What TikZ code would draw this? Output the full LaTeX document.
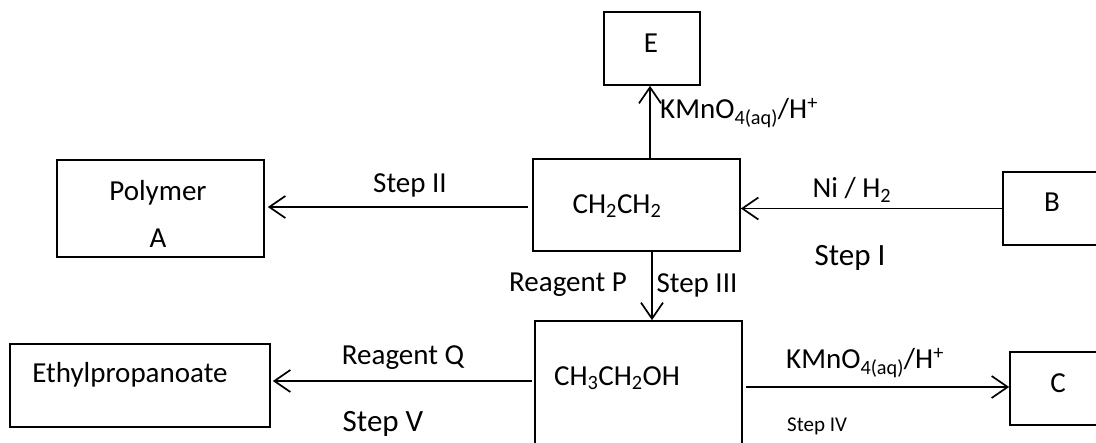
\documentclass[tikz,border=0pt]{standalone}
\usepackage{fontspec}
\setmainfont{Carlito}
\usetikzlibrary{arrows.meta}
\tikzset{
  box/.style={draw, line width=1.7pt, rectangle, inner sep=0pt},
  lbl/.style={inner sep=0pt, font=\fontsize{29}{34}\selectfont},
  biglbl/.style={inner sep=0pt, font=\fontsize{31}{36}\selectfont},
  smalllbl/.style={inner sep=0pt, font=\fontsize{21}{25}\selectfont},
  arr/.style={line width=1.7pt, -{Straight Barb[length=16pt,width=22pt,line width=1.7pt]}}
}
\begin{document}
\begin{tikzpicture}[x=1pt,y=-1pt]
\clip (0,0) rectangle (1096,443);
\useasboundingbox (0,0) rectangle (1096,443);
% boxes
\node[box, minimum width=96pt, minimum height=73pt] (e) at (652,48.5) {};
\node[box, minimum width=207pt, minimum height=97pt] (poly) at (160.5,208.5) {};
\node[box, minimum width=207pt, minimum height=92pt] (ch) at (636.5,205) {};
\node[box, minimum width=107pt, minimum height=73pt] (b) at (1056.5,208.5) {};
\node[box, minimum width=207pt, minimum height=149pt] (al) at (638.5,395.5) {};
\node[box, minimum width=260pt, minimum height=83pt] (eth) at (140,385.5) {};
\node[box, minimum width=100pt, minimum height=73pt] (c) at (1060,388.5) {};
% box texts
\node[lbl] (et) at (651,43) {E};
\node[lbl] (pt1) at (158,193) {Polymer};
\node[lbl] (pt2) at (158,238) {A};
\node[lbl] (cht) at (617,206) {CH\textsubscript{2}CH\textsubscript{2}};
\node[lbl] (bt) at (1052,202) {B};
\node[lbl] (alt) at (617,378) {CH\textsubscript{3}CH\textsubscript{2}OH};
\node[lbl] (etht) at (130,375) {Ethylpropanoate};
\node[lbl] (ct) at (1058,383) {C};
% arrows
\draw[arr] (ch.north -| e.south) ++(-2,0) coordinate (eu) -- (eu |- e.south);
\coordinate (s2) at ([yshift=-2pt]ch.west);
\draw[arr, shorten <=4pt, shorten >=3pt] (s2) -- (s2 -| poly.east);
\draw[arr] (b.west) -- (b.west -| ch.east);
\draw[arr] (ch.south -| e.south) -- (al.north -| e.south);
\coordinate (q) at ([yshift=4.5pt]eth.east);
\draw[arr, shorten <=2pt, shorten >=2pt] (al.west |- q) -- (q);
\coordinate (k) at ([yshift=1.5pt]c.west);
\draw[arr, shorten <=3pt] (al.east |- k) -- (k);
% labels
\node[lbl, anchor=west] (k1) at (660,113) {KMnO\textsubscript{4(aq)}/H\textsuperscript{+}};
\node[lbl] (st2) at (410,185) {Step II};
\node[lbl] (ni) at (852,190) {Ni / H\textsubscript{2}};
\node[biglbl] (st1) at (850,258) {Step I};
\node[lbl] (rp) at (568,285) {Reagent P};
\node[lbl] (st3) at (697,285) {Step III};
\node[lbl] (rq) at (403,358) {Reagent Q};
\node[biglbl] (st5) at (383,424) {Step V};
\node[lbl, anchor=west] (k2) at (786,363) {KMnO\textsubscript{4(aq)}/H\textsuperscript{+}};
\node[smalllbl, anchor=west] (st4) at (787,426) {Step IV};
\end{tikzpicture}
\end{document}
